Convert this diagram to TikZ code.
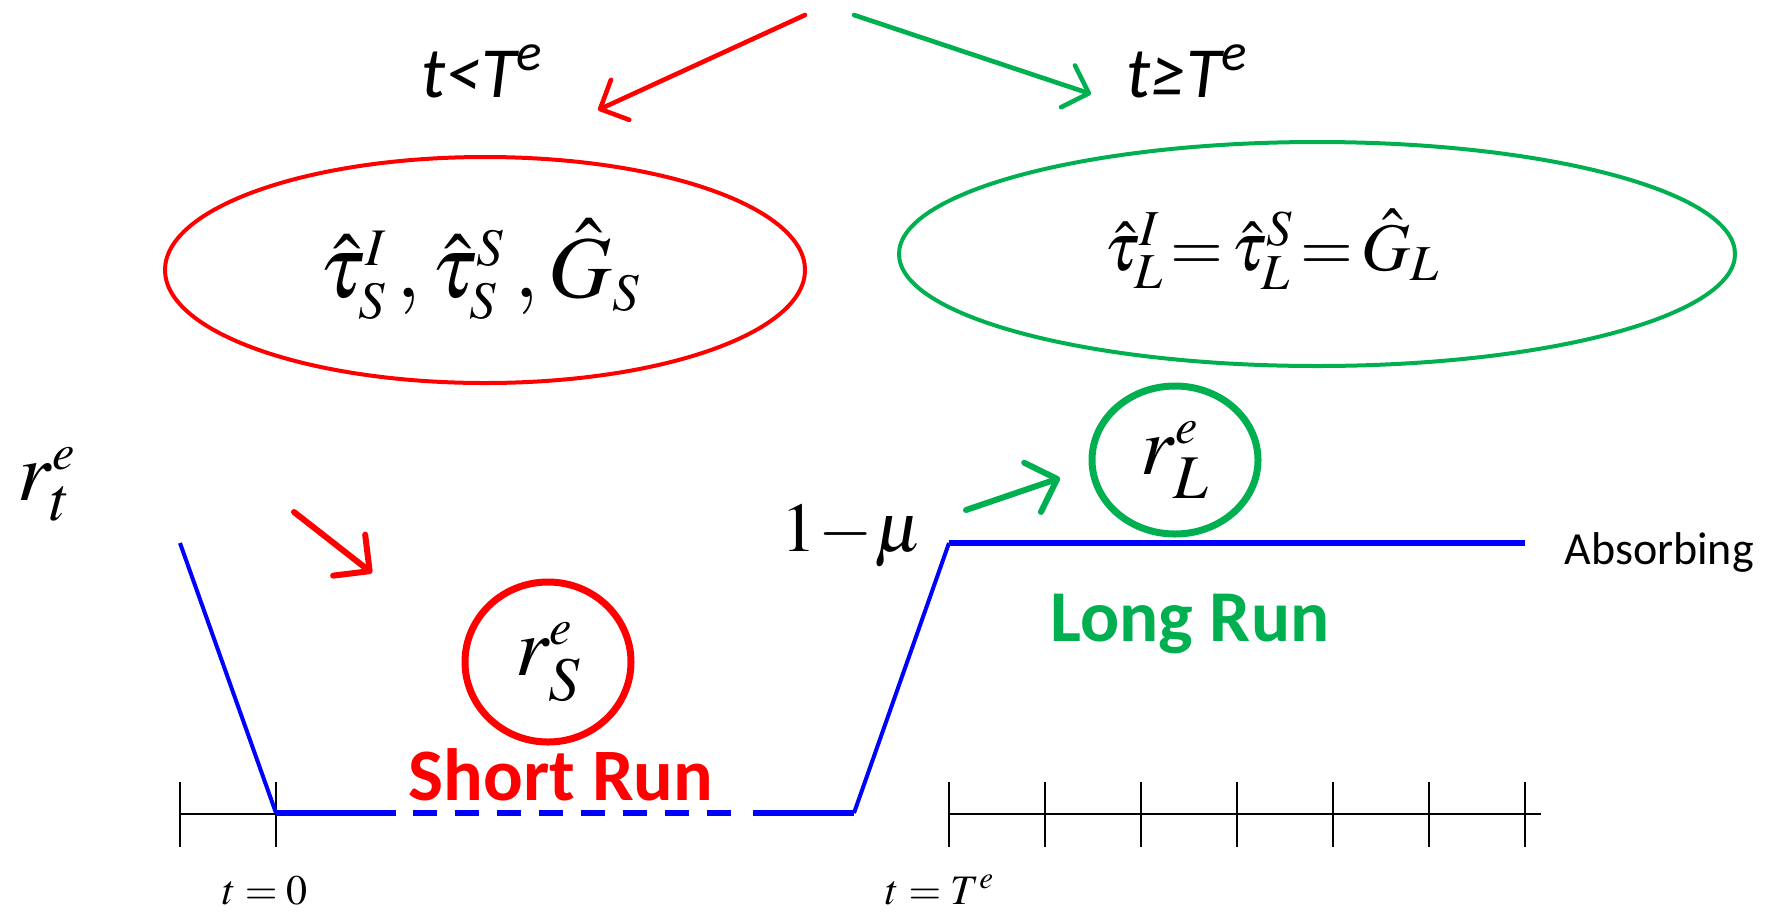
\documentclass[tikz,border=0pt]{standalone}
\usepackage{mathptmx}
\usepackage[no-math]{fontspec}
\setmainfont{Liberation Serif}
\newfontfamily\calibri{Carlito}
\usetikzlibrary{arrows.meta,shapes.geometric}
\definecolor{pred}{HTML}{FF0000}
\definecolor{pgreen}{HTML}{00B050}
\definecolor{pblue}{HTML}{0000FF}
\tikzset{
  bigarrow/.style={line width=2.3pt, line cap=round, -{Straight Barb[length=11pt,width=22pt,round]}},
  smallarrow/.style={line width=3pt, line cap=round, -{Straight Barb[length=13pt,width=26pt,round]}},
  bigell/.style={ellipse, draw, line width=2pt, inner sep=0pt},
  smallell/.style={ellipse, line width=3.5pt, inner sep=0pt, minimum width=83pt, text=black},
  bluethin/.style={pblue, line width=2pt},
  bluethick/.style={pblue, line width=2.75pt},
  axisline/.style={black, line width=1.4pt},
  tick/.style={black, line width=1.4pt},
  caltext/.style={inner sep=0pt, font=\calibri},
  mtext/.style={inner sep=0pt},
}
\begin{document}
\begin{tikzpicture}[x=0.5pt,y=-0.5pt]
\useasboundingbox[fill=white] (0,0) rectangle (1780,911);

% top arrows
\coordinate (topL) at (805,15);
\coordinate (tipL) at (598,110);
\coordinate (topR) at (854,15);
\coordinate (tipR) at (1091,94);
\draw[bigarrow, pred] (topL) -- (tipL);
\draw[bigarrow, pgreen] (topR) -- (tipR);

\node[caltext, anchor=base] (condS) at (482,97) {\fontsize{36}{40}\selectfont\itshape t<T\textsuperscript{e}};
\node[caltext, anchor=base] (condL) at (1187,97) {\fontsize{36}{40}\selectfont\itshape t≥T\textsuperscript{e}};

% ellipses
\node[bigell, draw=pred, minimum width=320pt, minimum height=113pt] (shortell) at (485,270) {};
\node[mtext, anchor=base] (shortpar) at (480,297) {\fontsize{44}{48}\selectfont $\hat{\tau}^{\scriptscriptstyle I}_{\scriptscriptstyle S}\,,\hat{\tau}^{\scriptscriptstyle S}_{\scriptscriptstyle S}\,,\hat{G}_{\scriptscriptstyle S}$};
\node[bigell, draw=pgreen, minimum width=418pt, minimum height=112pt] (longell) at (1317,254) {};
\node[mtext, anchor=base] (longpar) at (1272,270) {\fontsize{34}{38}\selectfont $\hat{\tau}^{I}_{L}\!=\!\hat{\tau}^{S}_{L}\!=\!\hat{G}_{L}$};

% left label
\node[mtext, anchor=base west] (rt) at (17,500) {\fontsize{42}{46}\selectfont $r^{\scriptscriptstyle e}_{t}$};
\node[mtext, anchor=base west] (onemu) at (781,551) {\fontsize{35}{38}\selectfont $1\!-\!\mu$};

% small arrows
\coordinate (sa1) at (294,512);
\coordinate (sa2) at (372,573);
\draw[smallarrow, pred] (sa1) -- (sa2);
\coordinate (ga1) at (966,510);
\coordinate (ga2) at (1060,478);
\draw[smallarrow, pgreen] (ga1) -- (ga2);

% circles
\node[smallell, draw=pred, minimum height=80pt] (rS) at (548,662) {\fontsize{42}{46}\selectfont $r^{\scriptscriptstyle e}_{S}$};
\node[smallell, draw=pgreen, minimum height=74pt] (rL) at (1175,460) {\fontsize{42}{46}\selectfont $r^{\scriptscriptstyle e}_{L}$};

% labels
\node[caltext, anchor=base, text=pred] (shortrun) at (561,800) {\fontsize{37}{40}\selectfont\bfseries Short Run};
\node[caltext, anchor=base, text=pgreen] (longrun) at (1190,641) {\fontsize{36.5}{40}\selectfont\bfseries Long Run};
\node[caltext, anchor=base west] (absorb) at (1564,564) {\fontsize{23}{26}\selectfont Absorbing};

% axes
\coordinate (a0) at (180,814);
\coordinate (a1) at (276,814);
\draw[axisline] (a0) -- (a1);
\foreach \x in {180,276} \draw[tick] (\x,782) -- (\x,847);
\coordinate (b0) at (949,814);
\coordinate (b1) at (1541,814);
\draw[axisline] (b0) -- (b1);
\foreach \x in {949,1045,1141,1237,1333,1429,1525} \draw[tick] (\x,782) -- (\x,847);

% blue path
\coordinate (p0) at (180,543);
\coordinate (p1) at (276,813);
\coordinate (p2) at (396,813);
\coordinate (p3) at (413,813);
\coordinate (p4) at (731,813);
\coordinate (p5) at (753,813);
\coordinate (p6) at (854,813);
\coordinate (p7) at (949,543);
\coordinate (p8) at (1525,543);
\draw[bluethin] (p0) -- (p1);
\draw[bluethick] (p1) -- (p2);
\draw[bluethick, dash pattern=on 12pt off 9pt] (p3) -- (p4);
\draw[bluethick] (p5) -- (p6);
\draw[bluethin] (p6) -- (p7);
\draw[bluethick] (p7) -- (p8);

\node[mtext, anchor=base] (t0) at (265,904) {\fontsize{21}{24}\selectfont $t=0$};
\node[mtext, anchor=base] (tT) at (940,904) {\fontsize{21}{24}\selectfont $t=T^{e}$};
\end{tikzpicture}
\end{document}
